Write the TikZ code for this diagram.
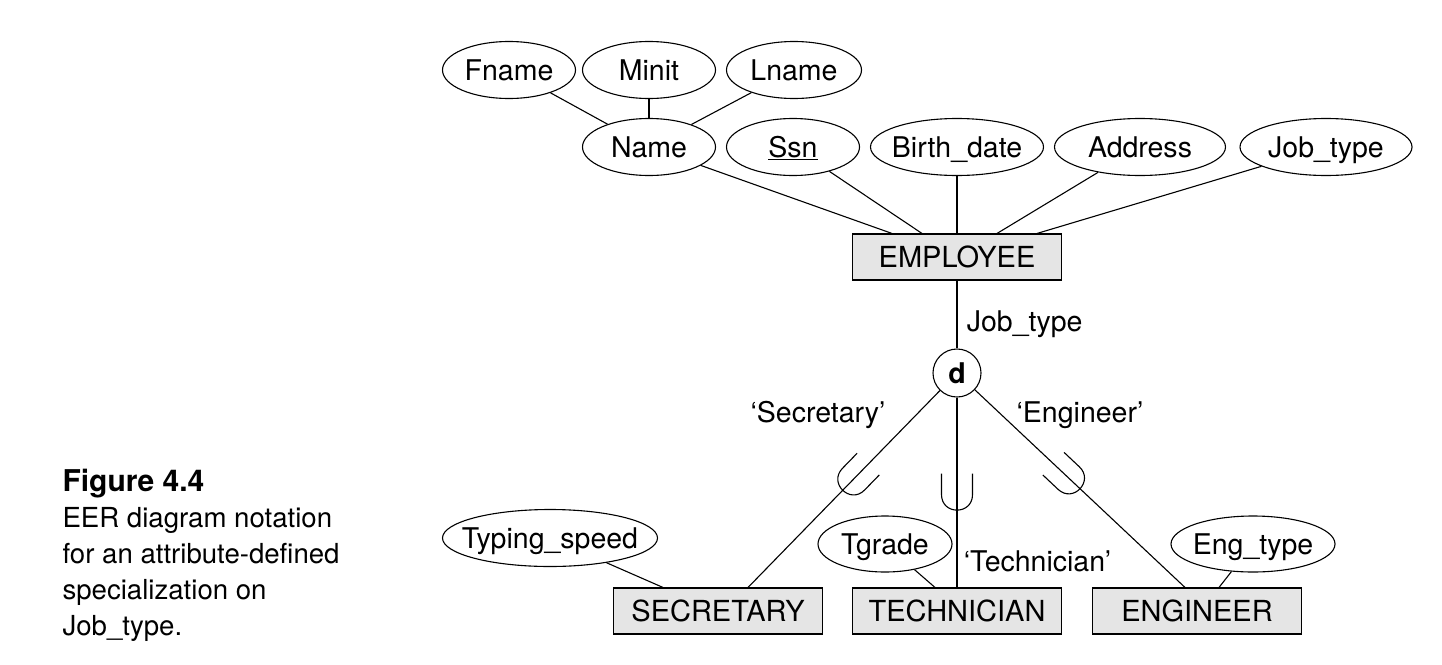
\documentclass[tikz,border=0pt]{standalone}
\usepackage{fontspec}
\setmainfont{TeX Gyre Heros}
\usepackage{tikz}
\usepackage{xcolor}
\usetikzlibrary{shapes.geometric}

\begin{document}
\begin{tikzpicture}[x=1pt,y=-1pt,line width=1.1pt,
    attr/.style={draw,ellipse,inner ysep=0pt,inner xsep=-30pt,minimum width=133pt,
      minimum height=57pt,text height=20.5pt,text depth=0pt,
      font=\fontsize{28.5}{30}\selectfont},
    entity/.style={draw,fill=gray!20,inner sep=0pt,minimum width=209pt,minimum height=46pt,
      font=\fontsize{29}{30}\selectfont},
    lbl/.style={font=\fontsize{28.5}{30}\selectfont},
    cup/.pic={\draw (-15.5,-21) -- (-15.5,0) .. controls (-15.5,20.7) and (15.5,20.7)
      .. (15.5,0) -- (15.5,-21);}]
    \useasboundingbox (0,0) rectangle (1442,664);

    % composite attribute Name
    \path (509,70) node [attr] (fname) {Fname};
    \path (649,70) node [attr] (minit) {Minit};
    \path (794,70) node [attr,minimum width=135pt] (lname) {Lname};
    \path (649,147) node [attr] (name) {Name};
    \draw (fname) -- (name);
    \draw (minit) -- (name);
    \draw (lname) -- (name);

    % EMPLOYEE and its attributes
    \path (957,257) node [entity] (emp) {EMPLOYEE};
    \path (793,147) node [attr] (ssn) {\underline{Ssn}};
    \path (957,147) node [attr,minimum width=173pt] (bdate) {Birth\_date};
    \path (1140,147) node [attr,minimum width=171pt] (addr) {Address};
    \path (1326,147) node [attr,minimum width=172pt] (jtype) {Job\_type};
    \draw (name) -- ([xshift=-65]emp.north);
    \draw (ssn) -- ([xshift=-35]emp.north);
    \draw (bdate) -- (emp.north);
    \draw (addr) -- ([xshift=40]emp.north);
    \draw (jtype) -- ([xshift=80]emp.north);

    % specialization circle
    \path (957,373) node [draw,circle,inner sep=0pt,minimum size=48pt,
      font=\fontsize{28.5}{30}\selectfont\bfseries] (d) {d};
    \draw (emp) -- (d) node[pos=0.65,right,xshift=6,lbl] {Job\_type};

    % subclasses
    \path (718,611) node [entity] (sec) {SECRETARY};
    \path (957,611) node [entity] (tech) {TECHNICIAN};
    \path (1197,611) node [entity] (eng) {ENGINEER};
    \draw (d) -- ([xshift=30]sec.north);
    \draw (d) -- (tech.north) node[pos=0.86,right,xshift=3,lbl] {‘Technician’};
    \draw (d) -- ([xshift=-12]eng.north);
    \path (818,415) node [lbl] (seclab) {‘Secretary’};
    \path (1080,415) node [lbl] (englab) {‘Engineer’};

    % subset symbols
    \path (d.center) -- ([xshift=30]sec.north) coordinate[pos=0.495] (csec);
    \path (d.center) -- (tech.north) coordinate[pos=0.567] (ctech);
    \path (d.center) -- ([xshift=-12]eng.north) coordinate[pos=0.49] (ceng);
    \path (csec) pic[rotate=-44.2] {cup};
    \path (ctech) pic {cup};
    \path (ceng) pic[rotate=46.7] {cup};

    % local attributes
    \path (550,538) node [attr,minimum width=215pt] (tspeed) {Typing\_speed};
    \path (885,544) node [attr,minimum width=134pt,minimum height=56pt] (tgrade) {Tgrade};
    \path (1253,544) node [attr,minimum width=164pt,minimum height=56pt] (etype) {Eng\_type};
    \draw (tspeed) -- ([xshift=-55]sec.north);
    \draw (tgrade) -- ([xshift=-22]tech.north);
    \draw (etype) -- ([xshift=22]eng.north);

    % caption
    \path (62,469) node [anchor=north west,inner sep=0pt,align=left,
      font=\fontsize{27.6}{36}\selectfont] (cap)
      {{\fontsize{30}{36}\selectfont\bfseries Figure 4.4}\\EER diagram notation\\
       for an attribute-defined\\specialization on\\Job\_type.};
\end{tikzpicture}
\end{document}
